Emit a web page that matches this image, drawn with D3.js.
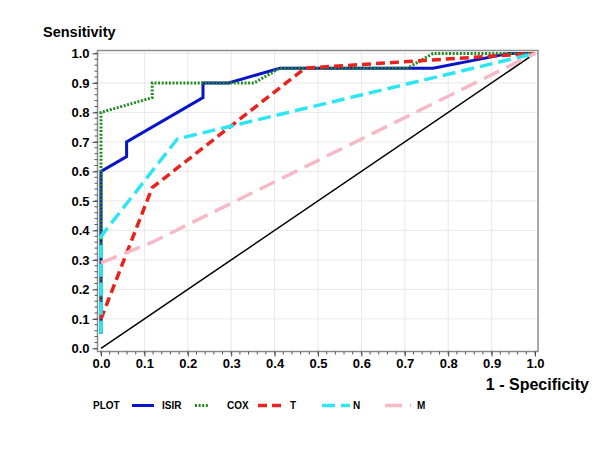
<!DOCTYPE html>
<html>
<head>
<meta charset="utf-8">
<script src="https://cdn.jsdelivr.net/npm/d3@7"></script>
<style>
  html, body { margin: 0; padding: 0; background: #fff; }
  svg text { font-family: "Liberation Sans", Arial, sans-serif; font-weight: bold; fill: #000; }
</style>
</head>
<body>
<svg id="chart" width="600" height="450"></svg>
<script>
// ---- data (1 - specificity, sensitivity) ----
const seriesNames = ["ISIR", "COX", "T", "N", "M"];
const isirX = [0, 0, 0.059, 0.059, 0.235, 0.235, 0.294, 0.412, 0.765, 0.941, 1];
const isirY = [0.05, 0.60, 0.65, 0.70, 0.85, 0.90, 0.90, 0.95, 0.95, 1.00, 1];
const coxX  = [0, 0, 0.118, 0.118, 0.353, 0.412, 0.706, 0.765, 1];
const coxY  = [0.05, 0.80, 0.85, 0.90, 0.90, 0.95, 0.95, 1.00, 1];
const tX    = [0, 0.118, 0.47, 1];
const tY    = [0.10, 0.545, 0.95, 1];
const nX    = [0, 0, 0.176, 1];
const nY    = [0.05, 0.38, 0.71, 1];
const mX    = [0, 0.118, 1];
const mY    = [0.29, 0.36, 1];
const tickValues = [0, 0.1, 0.2, 0.3, 0.4, 0.5, 0.6, 0.7, 0.8, 0.9, 1.0];
const tickLabels = ["0.0", "0.1", "0.2", "0.3", "0.4", "0.5", "0.6", "0.7", "0.8", "0.9", "1.0"];
const minorTicks = d3.range(0, 1.0001, 0.02);

// ---- styles ----
const styles = {
  ISIR: { color: "#0a14c8", width: 3,   dash: null },
  COX:  { color: "#1f8a1f", width: 3,   dash: "2,1.6" },
  T:    { color: "#e8221c", width: 3.5, dash: "9,5" },
  N:    { color: "#2ee6f2", width: 3.5, dash: "13,6" },
  M:    { color: "#f6b9c6", width: 3.5, dash: "17,8" }
};

const svg = d3.select("#chart");
const x = d3.scaleLinear().domain([0, 1]).range([101, 535]);
const y = d3.scaleLinear().domain([0, 1]).range([348.4, 53.4]);

const fL = 97.5, fR = 538, fT = 50.5, fB = 351.5;

// grid
const grid = svg.append("g");
tickValues.slice(1, 10).forEach(v => {
  grid.append("line").attr("x1", x(v)).attr("x2", x(v)).attr("y1", fT).attr("y2", fB)
    .attr("stroke", "#e8e8e8").attr("stroke-width", 1);
});
tickValues.slice(1, 11).forEach(v => {
  grid.append("line").attr("x1", fL).attr("x2", fR).attr("y1", y(v)).attr("y2", y(v))
    .attr("stroke", "#e8e8e8").attr("stroke-width", 1);
});

// frame
svg.append("rect").attr("x", fL).attr("y", fT).attr("width", fR - fL).attr("height", fB - fT)
  .attr("fill", "none").attr("stroke", "#8c8c8c").attr("stroke-width", 1.5);

// axes (ticks only; domain = frame)
const xAxis = d3.axisBottom(x).tickValues(tickValues).tickFormat((d, i) => tickLabels[i]).tickSize(5).tickPadding(2);
const gx = svg.append("g").attr("transform", `translate(0,${fB})`).call(xAxis);
gx.select(".domain").remove();
gx.selectAll(".tick line").attr("stroke", "#444");
gx.selectAll(".tick text").style("font-size", "13px").attr("fill", "#000");

const yAxis = d3.axisLeft(y).tickValues(tickValues).tickFormat((d, i) => tickLabels[i]).tickSize(5).tickPadding(3);
const gy = svg.append("g").attr("transform", `translate(${fL},0)`).call(yAxis);
gy.select(".domain").remove();
gy.selectAll(".tick line").attr("stroke", "#444");
gy.selectAll(".tick text").style("font-size", "13px").attr("fill", "#000");

// minor ticks
const gmx = svg.append("g");
minorTicks.forEach(v => {
  gmx.append("line").attr("x1", x(v)).attr("x2", x(v)).attr("y1", fB).attr("y2", fB + 3)
    .attr("stroke", "#555").attr("stroke-width", 1);
  gmx.append("line").attr("x1", fL).attr("x2", fL - 3).attr("y1", y(v)).attr("y2", y(v))
    .attr("stroke", "#555").attr("stroke-width", 1);
});

// diagonal reference
svg.append("line").attr("x1", x(0)).attr("y1", y(0)).attr("x2", x(1)).attr("y2", y(1))
  .attr("stroke", "#000").attr("stroke-width", 1.5);

// curves
const line = d3.line().x(d => x(d[0])).y(d => y(d[1]));
const seriesData = {
  ISIR: d3.zip(isirX, isirY),
  COX: d3.zip(coxX, coxY),
  T: d3.zip(tX, tY),
  N: d3.zip(nX, nY),
  M: d3.zip(mX, mY)
};
seriesNames.forEach(name => {
  const s = styles[name];
  svg.append("path").datum(seriesData[name]).attr("d", line)
    .attr("fill", "none").attr("stroke", s.color).attr("stroke-width", s.width)
    .attr("stroke-dasharray", s.dash).attr("stroke-linejoin", "miter");
});

// axis titles
svg.append("text").attr("x", 43).attr("y", 36.5).style("font-size", "14.5px").text("Sensitivity");
svg.append("text").attr("x", 589).attr("y", 389.5).attr("text-anchor", "end").style("font-size", "16px").text("1 - Specificity");

// legend
const legY = 409;
svg.append("text").attr("x", 93).attr("y", legY).style("font-size", "10px").text("PLOT");
const legSamples = [
  { name: "ISIR", x1: 132, x2: 154, lx: 162 },
  { name: "COX",  x1: 195, x2: 208, lx: 227 },
  { name: "T",    x1: 258, x2: 281, lx: 290 },
  { name: "N",    x1: 322, x2: 350, lx: 353 },
  { name: "M",    x1: 385, x2: 411, lx: 417 }
];
legSamples.forEach(d => {
  const s = styles[d.name];
  svg.append("line").attr("x1", d.x1).attr("x2", d.x2).attr("y1", legY - 3.5).attr("y2", legY - 3.5)
    .attr("stroke", s.color).attr("stroke-width", s.width).attr("stroke-dasharray", s.dash);
  svg.append("text").attr("x", d.lx).attr("y", legY).style("font-size", "10px").text(d.name);
});
</script>
</body>
</html>
